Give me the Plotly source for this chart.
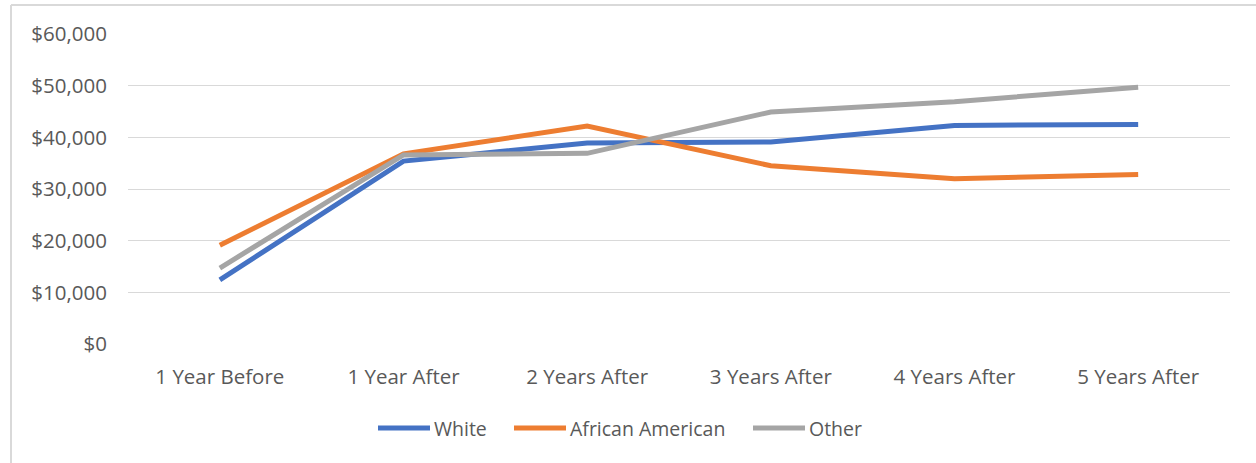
import plotly.graph_objects as go

# Earnings by period relative to the event, by race group
periods = ["1 Year Before", "1 Year After", "2 Years After",
           "3 Years After", "4 Years After", "5 Years After"]
white = [12400, 35400, 38900, 39100, 42300, 42500]
african_american = [19100, 36800, 42200, 34500, 32000, 32800]
other = [14700, 36600, 36900, 44900, 46900, 49700]

y_ticks = [0, 10000, 20000, 30000, 40000, 50000, 60000]

series = [
    ("White", white, "#4472C4"),
    ("African American", african_american, "#ED7D31"),
    ("Other", other, "#A5A5A5"),
]

fig = go.Figure()
for name, values, color in series:
    fig.add_trace(go.Scatter(
        x=periods, y=values, name=name, mode="lines",
        line=dict(color=color, width=5),
        showlegend=False,
    ))

font_family = "Open Sans, Calibri, Liberation Sans, sans-serif"
text_color = "#595959"

# Plot area geometry in pixels, used to place the legend and frame
W, H = 1256, 463
L, R, T, B = 128, 26, 34, 119
plot_w = W - L - R
plot_h = H - T - B


def px_x(px):
    return (px - L) / plot_w


def px_y(py):
    return (H - B - py) / plot_h


fig.update_layout(
    width=W, height=H,
    margin=dict(l=L, r=R, t=T, b=B),
    paper_bgcolor="white", plot_bgcolor="white",
    font=dict(family=font_family, size=20.5, color=text_color),
    showlegend=False,
    xaxis=dict(
        showgrid=False, zeroline=False, showline=False,
        ticks="", ticklabelstandoff=18,
        range=[-0.5, 5.5],
    ),
    yaxis=dict(
        range=[0, 60000], tickvals=y_ticks,
        ticktext=["$0" if v == 0 else f"${v:,}" for v in y_ticks],
        showgrid=True, gridcolor="#D9D9D9", gridwidth=1.3,
        zeroline=False, showline=False, ticks="",
        ticklabelstandoff=20,
    ),
)

# Legend below the chart: a line sample followed by the series name
legend_y = px_y(428)
legend_starts = [378, 514, 753]
sample_len = 52
for (name, _, color), start in zip(series, legend_starts):
    fig.add_shape(type="line", xref="paper", yref="paper",
                  x0=px_x(start), x1=px_x(start + sample_len),
                  y0=legend_y, y1=legend_y,
                  line=dict(color=color, width=5))
    fig.add_annotation(xref="paper", yref="paper",
                       x=px_x(start + sample_len + 2), y=legend_y,
                       xanchor="left", yanchor="middle", showarrow=False,
                       text=name,
                       font=dict(family=font_family, size=19.5, color=text_color))

# Light frame around the chart area (top and left edges)
frame_color = "#D9D9D9"
fig.add_shape(type="line", xref="paper", yref="paper",
              x0=px_x(11), x1=px_x(1262), y0=px_y(5), y1=px_y(5),
              line=dict(color=frame_color, width=2))
fig.add_shape(type="line", xref="paper", yref="paper",
              x0=px_x(11), x1=px_x(11), y0=px_y(5), y1=px_y(470),
              line=dict(color=frame_color, width=2))

fig.write_html("out.html")
